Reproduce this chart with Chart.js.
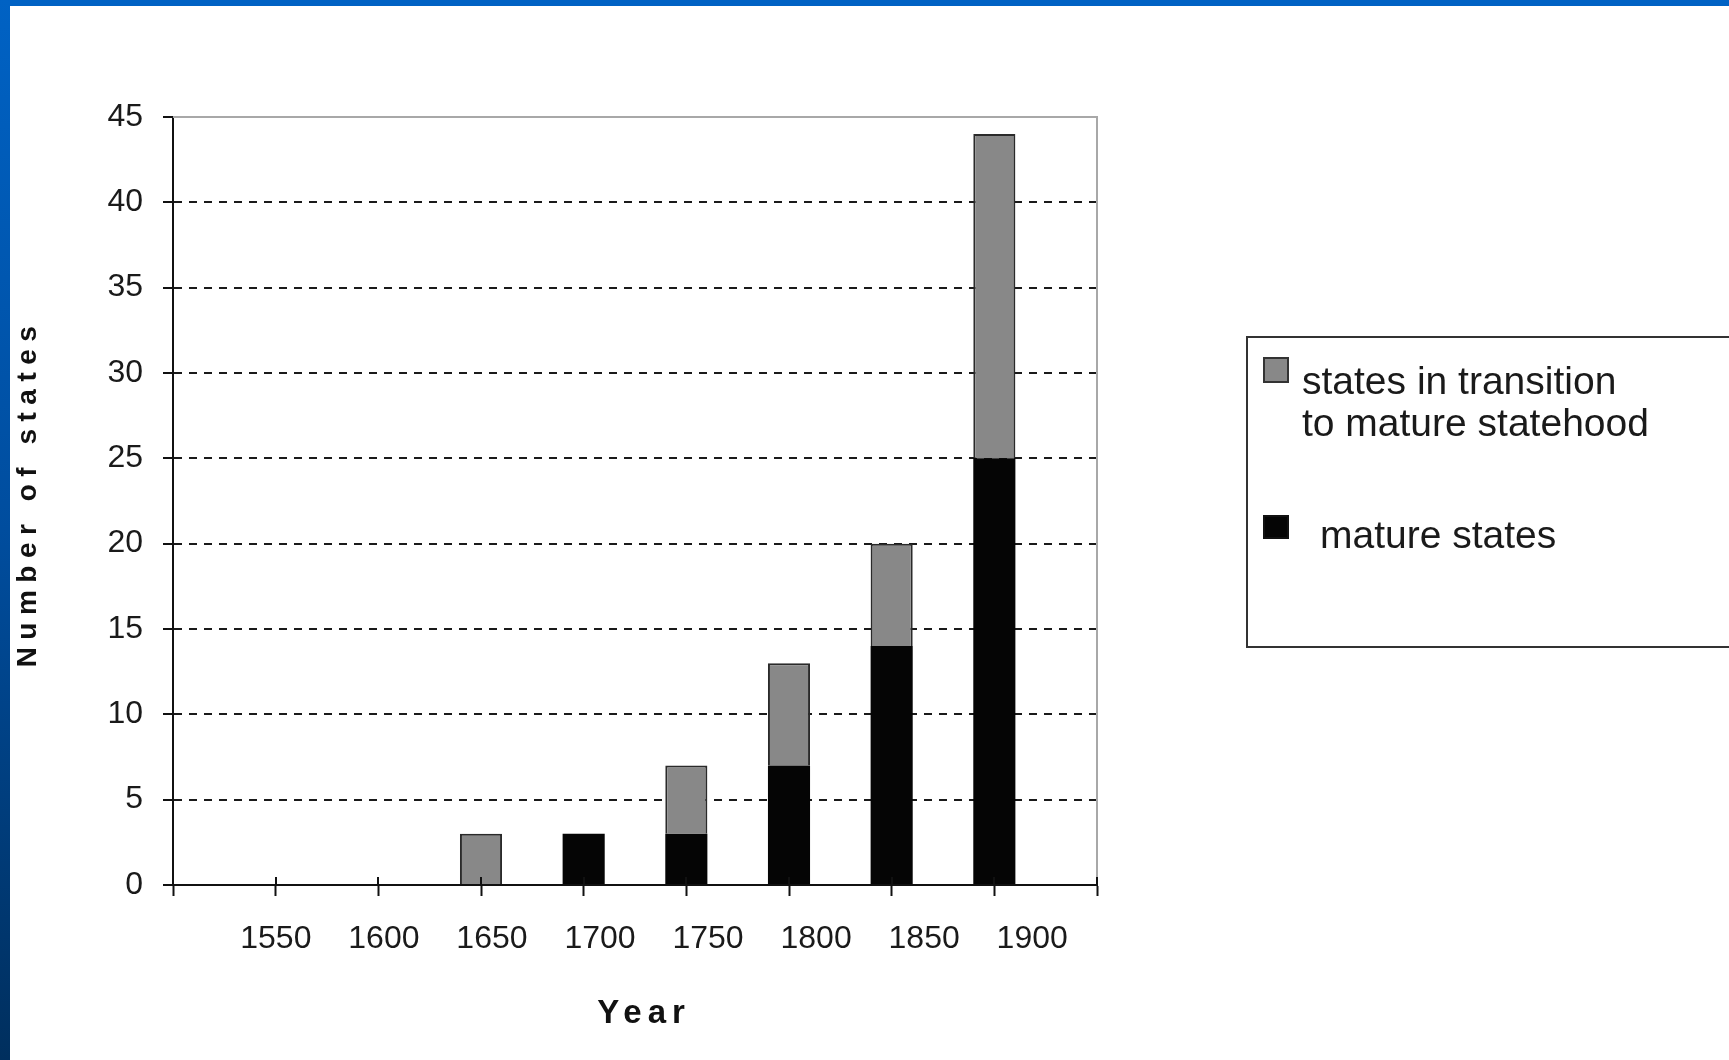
<!DOCTYPE html>
<html>
<head>
<meta charset="utf-8">
<title>Number of states</title>
<script src="https://cdn.jsdelivr.net/npm/chart.js@4.4.1/dist/chart.umd.min.js"></script>
<style>
    html, body {
        margin: 0;
        padding: 0;
        width: 1729px;
        height: 1060px;
        overflow: hidden;
        background: #fff;
    }
    #wrap {
        position: absolute;
        left: 0;
        top: 0;
        width: 1729px;
        height: 1060px;
    }
    .frame-top {
        position: absolute;
        left: 0;
        top: 0;
        width: 1729px;
        height: 6px;
        background: #0062c4;
    }
    .frame-left {
        position: absolute;
        left: 0;
        top: 0;
        width: 10px;
        height: 1060px;
        background: linear-gradient(#0062c4, #004d9e 50%, #002f5e);
    }
    #legend {
        position: absolute;
        left: 1246px;
        top: 336px;
        width: 520px;
        height: 312px;
        box-sizing: border-box;
        border: 2px solid #333;
        font: 39px 'Liberation Sans', Arial, sans-serif;
        color: #1a1a1a;
    }
    #legend .swatch {
        position: absolute;
        left: 15px;
        width: 26px;
        box-sizing: border-box;
    }
    #legend .label {
        position: absolute;
        line-height: 42px;
        white-space: pre;
    }
</style>
</head>
<body>
<div id="wrap">
    <canvas id="statesChart"></canvas>
</div>
<div class="frame-top"></div>
<div class="frame-left"></div>
<div id="legend"></div>

<script>
// Chart data
const years = [1550, 1600, 1650, 1700, 1750, 1800, 1850, 1900];
const matureStates = [0, 0, 0, 3, 3, 7, 14, 25];
const transitionStates = [0, 0, 3, 0, 4, 6, 6, 19];
const transitionLabel = ['states in transition', 'to mature statehood'];
const matureLabel = ['mature states'];
const xTitle = 'Year';
const yTitle = 'Number of states';

const FONT = "'Liberation Sans', Arial, sans-serif";
const GRAY = '#888888';
const BLACK = '#050505';

Chart.defaults.font.family = FONT;
Chart.defaults.color = '#1a1a1a';

// Gray frame on the top and right of the plot area
const plotFrame = {
    id: 'plotFrame',
    beforeDatasetsDraw(chart) {
        const { ctx, chartArea } = chart;
        ctx.save();
        ctx.strokeStyle = '#a8a8a8';
        ctx.lineWidth = 2;
        ctx.beginPath();
        ctx.moveTo(chartArea.left, chartArea.top);
        ctx.lineTo(chartArea.right, chartArea.top);
        ctx.lineTo(chartArea.right, chartArea.bottom);
        ctx.stroke();
        ctx.restore();
    }
};

// x tick marks cross the axis line a little
const crossTicks = {
    id: 'crossTicks',
    afterDatasetsDraw(chart) {
        const { ctx, chartArea } = chart;
        const xScale = chart.scales.x;
        ctx.save();
        ctx.strokeStyle = '#111';
        ctx.lineWidth = 2;
        xScale.ticks.forEach(t => {
            const px = Math.round(xScale.getPixelForValue(t.value));
            ctx.beginPath();
            ctx.moveTo(px, chartArea.bottom - 8);
            ctx.lineTo(px, chartArea.bottom);
            ctx.stroke();
        });
        ctx.restore();
    }
};

// Letter-spaced bold axis titles
const axisTitles = {
    id: 'axisTitles',
    afterDraw(chart) {
        const { ctx, chartArea } = chart;
        ctx.save();
        ctx.fillStyle = '#111';
        ctx.textAlign = 'center';
        ctx.textBaseline = 'middle';

        ctx.font = 'bold 33px ' + FONT;
        ctx.letterSpacing = '6px';
        ctx.fillText(xTitle, (chartArea.left + chartArea.right) / 2 + 9, 1014);

        ctx.font = 'bold 28px ' + FONT;
        ctx.letterSpacing = '7.5px';
        ctx.translate(28, (chartArea.top + chartArea.bottom) / 2 - 8);
        ctx.rotate(-Math.PI / 2);
        ctx.fillText(yTitle, 0, 0);
        ctx.restore();
    }
};

function buildLegend(items) {
    const legend = document.getElementById('legend');
    legend.innerHTML = items.map(item => `
        <div class="swatch" style="top:${item.boxTop}px;height:${item.boxHeight}px;background:${item.color};border:2px solid ${item.border}"></div>
        <div class="label" style="left:${item.textLeft}px;top:${item.textTop}px">${item.lines.join('\n')}</div>
    `).join('');
}

function initializeChart() {
    const ctx = document.getElementById('statesChart');

    const chart = new Chart(ctx, {
        type: 'bar',
        data: {
            datasets: [{
                label: matureLabel.join(' '),
                data: years.map((yr, i) => ({ x: yr, y: matureStates[i] })),
                backgroundColor: BLACK,
                borderColor: BLACK,
                borderWidth: 0,
                barPercentage: 0.41,
                categoryPercentage: 1
            }, {
                label: transitionLabel.join(' '),
                data: years.map((yr, i) => ({ x: yr, y: transitionStates[i] })),
                backgroundColor: GRAY,
                borderColor: '#2a2a2a',
                borderWidth: 2,
                barPercentage: 0.41,
                categoryPercentage: 1
            }]
        },
        options: {
            responsive: true,
            maintainAspectRatio: false,
            animation: false,
            layout: {
                padding: { top: 117, right: 632, left: 0, bottom: 0 }
            },
            plugins: {
                legend: { display: false },
                tooltip: { enabled: false }
            },
            scales: {
                x: {
                    type: 'linear',
                    stacked: true,
                    offset: false,
                    min: 1500,
                    max: 1950,
                    weight: 0,
                    ticks: { display: false, stepSize: 50 },
                    grid: {
                        offset: false,
                        drawOnChartArea: false,
                        tickLength: 11,
                        tickWidth: 2,
                        color: '#111'
                    },
                    border: { color: '#111', width: 2 },
                    afterFit: scale => { scale.height = 11; }
                },
                // separate axis carrying the year labels (they drift right in the original)
                xLabels: {
                    type: 'linear',
                    axis: 'x',
                    position: 'bottom',
                    weight: 1,
                    offset: false,
                    bounds: 'data',
                    min: 1502.4,
                    max: 1930,
                    grid: { display: false, drawTicks: false, offset: false },
                    border: { display: false },
                    afterBuildTicks: scale => {
                        scale.ticks = years.map(v => ({ value: v }));
                    },
                    ticks: {
                        autoSkip: false,
                        maxRotation: 0,
                        padding: 24,
                        color: '#1a1a1a',
                        font: { size: 32 },
                        callback: v => String(v)
                    },
                    afterFit: scale => { scale.height = 164; }
                },
                y: {
                    stacked: true,
                    min: 0,
                    max: 45,
                    ticks: {
                        stepSize: 5,
                        padding: 20,
                        color: '#1a1a1a',
                        font: { size: 32 }
                    },
                    grid: {
                        lineWidth: 2,
                        tickLength: 10,
                        tickWidth: 2,
                        tickColor: '#111',
                        color: c => (c.tick && (c.tick.value === 0 || c.tick.value === 45)) ? 'rgba(0,0,0,0)' : '#1a1a1a'
                    },
                    border: { color: '#111', width: 2, dash: [8, 7] },
                    afterFit: scale => { scale.width = 173; }
                }
            }
        },
        plugins: [plotFrame, crossTicks, axisTitles]
    });

    buildLegend([
        { lines: transitionLabel, color: GRAY, border: '#333', boxTop: 19, boxHeight: 26, textLeft: 54, textTop: 22 },
        { lines: matureLabel, color: BLACK, border: '#111', boxTop: 177, boxHeight: 24, textLeft: 72, textTop: 176 }
    ]);

    return chart;
}

document.addEventListener('DOMContentLoaded', initializeChart);
</script>
</body>
</html>
